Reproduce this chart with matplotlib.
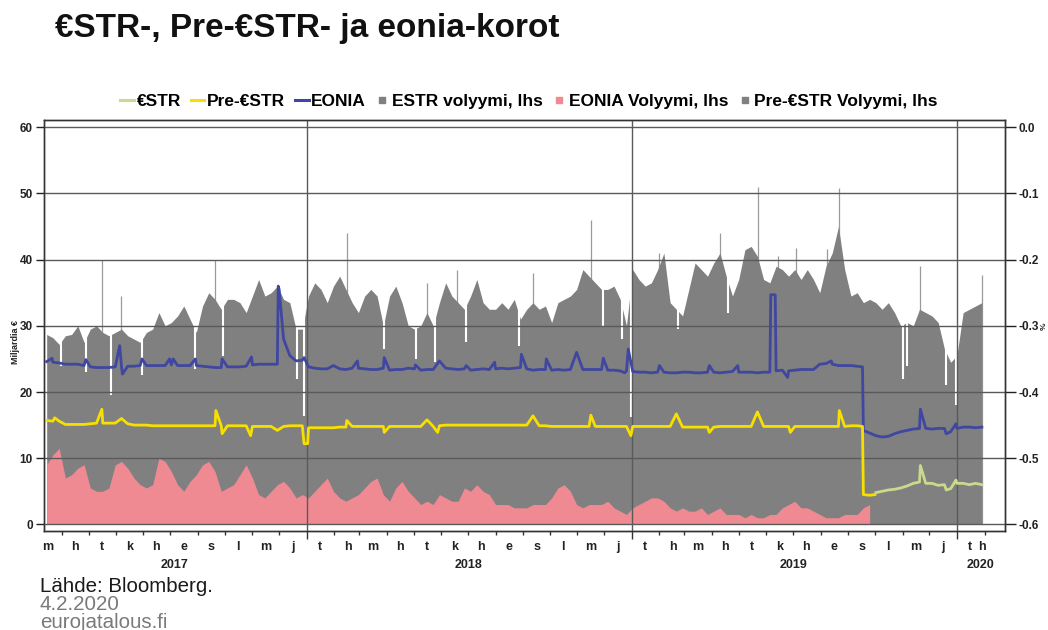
import matplotlib
matplotlib.use("Agg")
import matplotlib.pyplot as plt
import matplotlib.dates as mdates
import matplotlib.transforms as mtransforms
from matplotlib.lines import Line2D
import numpy as np
import pandas as pd

plt.rcParams['axes.unicode_minus'] = False
plt.rcParams['font.family'] = ['Liberation Sans', 'DejaVu Sans']

# ---------------- data (weekly observations, Wednesdays from 2017-03-15) ----------------
week_start = "2017-03-15"
n_weeks = 151

# Pre-€STR volume (weeks 0..132), EUR bn
pre_estr_volume = [
    28.7, 28.2, 27.2, 28.5, 28.7, 30.0, 27.5, 29.5, 30.0, 29.0, 28.5, 29.0, 29.5, 28.5, 28.0, 27.5, 29.0, 29.5, 32.0, 30.0,
    30.5, 31.5, 33.0, 31.0, 29.0, 33.0, 35.0, 34.0, 32.5, 34.0, 34.0, 33.5, 32.0, 34.5, 37.0, 34.5, 35.0, 36.0, 34.0, 33.5,
    29.5, 29.5, 34.5, 36.5, 35.5, 33.5, 36.0, 37.5, 35.5, 33.5, 32.0, 34.5, 35.5, 34.5, 30.0, 34.5, 36.0, 33.5, 30.0, 29.5,
    30.0, 32.0, 30.0, 33.5, 36.5, 34.5, 33.5, 32.5, 34.5, 37.0, 33.5, 32.5, 32.5, 33.5, 32.5, 34.0, 31.0, 32.5, 33.5,
    32.5, 33.0, 30.5, 33.5, 34.0, 34.5, 35.5, 38.5, 37.5, 36.5, 35.5, 35.5, 36.0, 34.0, 30.0, 38.5, 37.0, 36.0, 36.5, 38.5,
    41.0, 33.5, 32.5, 31.5, 35.5, 39.5, 38.5, 37.5, 39.5, 41.0, 37.5, 34.5, 37.0, 41.5, 42.0, 40.5, 37.0, 36.5, 39.0,
    38.5, 37.5, 38.5, 37.0, 38.5, 37.0, 35.0, 39.0, 41.0, 45.0, 38.5, 34.5, 35.0, 33.5, 34.0,
]
# €STR volume (weeks 133..150)
estr_volume = [33.5, 32.5, 33.5, 32.0, 30.0, 30.5, 30.0, 32.5, 32.0, 31.5, 30.5, 26.5, 24.5, 25.5, 32.0, 32.5, 33.0, 33.5]

# EONIA volume (weeks 0..132)
eonia_volume = [
    9.0, 10.5, 11.5, 7.0, 7.5, 8.5, 9.0, 5.5, 5.0, 5.0, 5.5, 9.0, 9.5, 8.5, 7.0, 6.0, 5.5, 6.0, 10.0, 9.5,
    8.0, 6.0, 5.0, 6.5, 7.5, 9.0, 9.5, 8.0, 5.0, 5.5, 6.0, 7.5, 9.0, 7.0, 4.5, 4.0, 5.0, 6.0, 6.5, 5.5,
    4.0, 4.5, 4.0, 5.0, 6.0, 7.0, 5.0, 4.0, 3.5, 4.0, 4.5, 5.5, 6.5, 7.0, 4.5, 3.5, 5.5, 6.5, 5.0, 4.0,
    3.0, 3.5, 3.0, 4.5, 4.0, 3.5, 3.5, 5.5, 5.0, 6.0, 5.0, 4.5, 3.0, 3.0, 3.0, 2.5, 2.5, 2.5, 3.0,
    3.0, 3.0, 4.0, 5.5, 6.0, 5.0, 3.0, 2.5, 3.0, 3.0, 3.0, 3.5, 2.5, 2.0, 1.5, 2.5, 3.0, 3.5, 4.0, 4.0,
    3.5, 2.5, 2.0, 2.5, 2.0, 2.0, 2.5, 1.5, 2.0, 2.5, 1.5, 1.5, 1.5, 1.0, 1.5, 1.0, 1.0, 1.5, 1.5,
    2.5, 3.0, 3.5, 2.5, 2.5, 2.0, 1.5, 1.0, 1.0, 1.0, 1.5, 1.5, 1.5, 2.5, 3.0,
]

# EONIA rate, % (weeks 0..150)
eonia_rate = [
    -0.354, -0.355, -0.356, -0.358, -0.358, -0.358, -0.360, -0.362, -0.363, -0.363, -0.363, -0.362, -0.361, -0.361,
    -0.361, -0.360, -0.360, -0.360, -0.360, -0.360, -0.359, -0.360, -0.360, -0.360, -0.360, -0.361, -0.362, -0.363,
    -0.363, -0.362, -0.362, -0.362, -0.361, -0.359, -0.358, -0.358, -0.358, -0.358, -0.320, -0.345,
    -0.353, -0.352, -0.362, -0.364, -0.365, -0.365, -0.364, -0.365, -0.366, -0.364, -0.364, -0.365, -0.366, -0.366,
    -0.364, -0.367, -0.366, -0.366, -0.364, -0.365, -0.367, -0.366, -0.366, -0.364, -0.364, -0.365, -0.366, -0.365,
    -0.367, -0.366, -0.365, -0.366, -0.365, -0.364, -0.365, -0.364, -0.363, -0.365, -0.367,
    -0.366, -0.366, -0.367, -0.366, -0.367, -0.366, -0.367, -0.366, -0.366, -0.366, -0.366, -0.367, -0.367, -0.368,
    -0.368, -0.369, -0.370, -0.370, -0.371, -0.370, -0.370, -0.371, -0.371, -0.370, -0.370, -0.371, -0.371, -0.370,
    -0.370, -0.371, -0.370, -0.369, -0.370, -0.370, -0.370, -0.371, -0.370, -0.370, -0.368,
    -0.367, -0.368, -0.367, -0.366, -0.366, -0.366, -0.361, -0.357, -0.358, -0.360, -0.360, -0.360, -0.361,
    -0.458, -0.462, -0.466, -0.468, -0.467, -0.463, -0.460, -0.458, -0.456, -0.455, -0.455, -0.456, -0.455,
    -0.455, -0.460, -0.455, -0.453, -0.453, -0.454, -0.453,
]

# Pre-€STR rate, % (weeks 0..132)
pre_estr_rate = [
    -0.443, -0.444, -0.444, -0.449, -0.449, -0.449, -0.449, -0.448, -0.447, -0.447, -0.447, -0.447, -0.447, -0.448,
    -0.450, -0.450, -0.450, -0.451, -0.451, -0.451, -0.451, -0.451, -0.451, -0.451, -0.451, -0.451, -0.451, -0.451,
    -0.451, -0.451, -0.451, -0.451, -0.451, -0.452, -0.452, -0.452, -0.452, -0.452, -0.452, -0.451,
    -0.451, -0.451, -0.454, -0.454, -0.454, -0.454, -0.454, -0.453, -0.453, -0.452, -0.452, -0.452, -0.452, -0.452,
    -0.452, -0.452, -0.452, -0.452, -0.452, -0.452, -0.452, -0.452, -0.452, -0.451, -0.450, -0.450, -0.450, -0.450,
    -0.450, -0.450, -0.450, -0.450, -0.450, -0.450, -0.450, -0.450, -0.450, -0.450, -0.450,
    -0.451, -0.451, -0.452, -0.452, -0.452, -0.452, -0.452, -0.452, -0.452, -0.452, -0.452, -0.452, -0.452, -0.452,
    -0.452, -0.452, -0.452, -0.452, -0.452, -0.452, -0.452, -0.452, -0.453, -0.453, -0.453, -0.453, -0.453, -0.453,
    -0.453, -0.452, -0.452, -0.452, -0.452, -0.452, -0.452, -0.452, -0.452, -0.452, -0.452,
    -0.452, -0.452, -0.452, -0.452, -0.452, -0.452, -0.452, -0.452, -0.452, -0.452, -0.452, -0.451, -0.451,
    -0.555, -0.556,
]

# €STR rate, % (weeks 133..150)
estr_rate = [-0.552, -0.550, -0.548, -0.547, -0.545, -0.542, -0.538, -0.536, -0.538, -0.538, -0.541, -0.540,
             -0.546, -0.538, -0.538, -0.540, -0.538, -0.540]

# single-day moves between the weekly observations
eonia_spike_dates = ["2017-03-21", "2017-04-28", "2017-06-05", "2017-06-08", "2017-06-30", "2017-07-31",
                     "2017-08-04", "2017-08-29", "2017-09-28", "2017-10-31", "2017-11-30", "2017-12-01",
                     "2017-12-29", "2018-01-31", "2018-02-27", "2018-03-29", "2018-05-03", "2018-05-30",
                     "2018-06-29", "2018-07-31", "2018-08-30", "2018-09-27", "2018-10-31", "2018-11-30",
                     "2018-12-24", "2018-12-28", "2019-02-01", "2019-03-29", "2019-04-30", "2019-06-06",
                     "2019-06-11", "2019-06-25", "2019-07-31", "2019-08-13", "2019-09-17", "2019-11-21",
                     "2019-12-20", "2019-12-31"]
eonia_spike_values = [-0.349, -0.351, -0.330, -0.373, -0.350, -0.350, -0.350, -0.350, -0.350, -0.347, -0.240,
                      -0.245, -0.348, -0.360, -0.353, -0.348, -0.359, -0.353, -0.360, -0.355, -0.343, -0.350,
                      -0.340, -0.349, -0.371, -0.335, -0.360, -0.360, -0.360, -0.253, -0.253, -0.378, -0.358,
                      -0.353, -0.362, -0.426, -0.463, -0.448]

pre_estr_spike_dates = ["2017-03-24", "2017-05-16", "2017-06-07", "2017-09-21", "2017-09-28", "2017-10-30",
                        "2017-11-29", "2017-12-29", "2018-01-02", "2018-02-15", "2018-03-29", "2018-05-16",
                        "2018-05-28", "2018-09-12", "2018-11-16", "2018-12-31", "2019-02-20", "2019-03-29",
                        "2019-05-22", "2019-06-28", "2019-08-22", "2019-09-17", "2019-10-01"]
pre_estr_spike_values = [-0.439, -0.426, -0.440, -0.428, -0.463, -0.466, -0.458, -0.478, -0.478, -0.443, -0.461,
                         -0.442, -0.461, -0.436, -0.435, -0.466, -0.433, -0.461, -0.430, -0.461, -0.428, -0.452,
                         -0.555]

estr_spike_dates = ["2019-11-21", "2019-12-20", "2019-12-31"]
estr_spike_values = [-0.511, -0.548, -0.533]

volume_peak_dates = ["2017-05-16", "2017-06-07", "2017-09-20", "2018-02-15", "2018-05-16", "2018-06-19",
                     "2018-09-12", "2018-11-16", "2019-02-01", "2019-04-10", "2019-05-23", "2019-06-14",
                     "2019-07-04", "2019-08-08", "2019-08-22", "2019-11-21", "2020-01-29"]
volume_peak_values = [40, 34.5, 40, 44, 36.5, 38.5, 38, 46, 41, 44, 51, 40.5, 41.7, 41.6, 50.8, 39, 37.7]

volume_low_dates = ["2017-03-31", "2017-04-28", "2017-05-26", "2017-06-30", "2017-08-28", "2017-09-29",
                    "2017-12-21", "2017-12-29", "2018-03-29", "2018-05-04", "2018-05-25", "2018-06-29",
                    "2018-08-27", "2018-11-30", "2018-12-21", "2018-12-31", "2019-02-22", "2019-04-19",
                    "2019-11-01", "2019-11-06", "2019-12-20", "2019-12-31"]
volume_low_values = [24, 23, 19.5, 22.5, 23.5, 25.5, 22, 16.4, 26.5, 25, 24.5, 27.5, 27, 30, 28, 16.3,
                     29.5, 32, 22, 24, 21, 18]

month_letters = ['t', 'h', 'm', 'h', 't', 'k', 'h', 'e', 's', 'l', 'm', 'j']

# ---------------- build ----------------
dates = pd.date_range(week_start, periods=n_weeks, freq="7D")
n_pre = len(pre_estr_volume)
d_pre = dates[:n_pre]
d_estr = dates[n_pre:]


def num(d):
    return mdates.date2num(pd.to_datetime(d).to_pydatetime())


def merged(base_dates, base_vals, sp_dates, sp_vals):
    s = pd.concat([pd.Series(base_vals, index=base_dates),
                   pd.Series(sp_vals, index=pd.to_datetime(sp_dates))])
    s = s[~s.index.duplicated(keep='last')].sort_index()
    return num(s.index), s.values


C_GRAY = '#808080'
C_PINK = '#f08a92'
C_BLUE = '#3f47a0'
C_YEL = '#f7df00'
C_GRN = '#c9d98e'
C_GRID = '#5a5a5a'

fig = plt.figure(figsize=(10.48, 6.30), dpi=100)
ax = fig.add_axes([44 / 1048, 1 - 531 / 630, (1005 - 44) / 1048, (531 - 120) / 630])
ax2 = ax.twinx()

x_all = num(dates)
x_pre = num(d_pre)

# thin single-day peaks (behind the bars)
ax.vlines(num(volume_peak_dates), 0, volume_peak_values, color='#9a9a9a', lw=0.9, zorder=0.8)
# Pre-€STR volume followed by €STR volume (same grey)
ax.fill_between(x_all, 0, np.concatenate([pre_estr_volume, estr_volume]), color=C_GRAY, lw=0, zorder=1)
# low-volume days (gaps in bars)
ax.vlines(num(volume_low_dates), volume_low_values, 61.1, color='white', lw=1.5, zorder=1.2)
ax.fill_between(x_pre, 0, eonia_volume, color=C_PINK, lw=0, zorder=1.3)

xe, ye = merged(dates, eonia_rate, eonia_spike_dates, eonia_spike_values)
xp, yp = merged(d_pre, pre_estr_rate, pre_estr_spike_dates, pre_estr_spike_values)
xs, ys = merged(d_estr, estr_rate, estr_spike_dates, estr_spike_values)
ax2.plot(xe, ye, color=C_BLUE, lw=2.0, solid_joinstyle='round')
ax2.plot(xp, yp, color=C_YEL, lw=2.0, solid_joinstyle='round')
ax2.plot(xs, ys, color=C_GRN, lw=2.0, solid_joinstyle='round')

# axes limits
xmin = num("2017-03-12")
xmax = num("2020-02-24")
ax.set_xlim(xmin, xmax)
ax.set_ylim(-1.0, 61.1)
ax2.set_ylim(-0.61, 0.011)

ax.set_axisbelow(False)
ax.set_yticks(range(0, 61, 10))
ax.set_yticklabels([str(v) for v in range(0, 61, 10)], fontsize=8.5, fontweight='bold')
ax.grid(axis='y', color=C_GRID, lw=1.0, zorder=2.5)
ax.tick_params(axis='y', direction='out', length=6, width=1, pad=2, colors='#222')

rt = [0.0, -0.1, -0.2, -0.3, -0.4, -0.5, -0.6]
ax2.set_yticks(rt)
ax2.set_yticklabels([f"{v:.1f}" for v in rt], fontsize=8.5, fontweight='bold')
ax2.tick_params(axis='y', direction='out', length=8, width=1, pad=2, colors='#222')

# x axis: year lines and month ticks
years = pd.date_range("2018-01-01", "2020-01-01", freq="YS")
ax.set_xticks(num(years))
ax.set_xticklabels([])
ax.tick_params(axis='x', which='major', direction='out', length=6, width=1, colors='#333')
ax.grid(axis='x', which='major', color=C_GRID, lw=1.0, zorder=2.5)
months = pd.date_range("2017-04-01", "2020-02-01", freq="MS")
ax.set_xticks(num(months), minor=True)
ax.tick_params(axis='x', which='minor', direction='out', length=3, width=1, colors='#333')

trans = mtransforms.blended_transform_factory(ax.transData, ax.transAxes)
last_day = dates[-1]
for m in pd.date_range("2017-03-01", "2020-02-01", freq="MS"):
    pos = min(m + pd.Timedelta(days=15), last_day)
    ax.text(num(pos), -0.039, month_letters[m.month - 1], transform=trans,
            ha='center', va='center', fontsize=9, fontweight='bold', color='#222')
for y in [2017, 2018, 2019, 2020]:
    a = max(num(f"{y}-01-01"), xmin)
    b = min(num(f"{y}-12-31"), xmax)
    ax.text((a + b) / 2, -0.083, str(y), transform=trans, ha='center', va='center',
            fontsize=9, fontweight='bold', color='#222')

for sp in list(ax.spines.values()) + list(ax2.spines.values()):
    sp.set_color('#333')
    sp.set_linewidth(1.0)

# texts
fig.text(55 / 1048, 1 - 28 / 630, "€STR-, Pre-€STR- ja eonia-korot", fontsize=24, fontweight='bold',
         ha='left', va='center', color='#111')
fig.text(15 / 1048, 1 - 342 / 630, "Miljardia €", rotation=90, fontsize=6.5, fontweight='bold',
         ha='center', va='center', color='#222')
fig.text(1044 / 1048, 1 - 326 / 630, "%", rotation=90, fontsize=6, fontweight='bold',
         ha='center', va='center', color='#222')
fig.text(40 / 1048, 1 - 587 / 630, "Lähde: Bloomberg.", fontsize=14.8, ha='left', va='center', color='#1a1a1a')
fig.text(40 / 1048, 1 - 605 / 630, "4.2.2020", fontsize=14.8, ha='left', va='center', color='#7a7a7a')
fig.text(40 / 1048, 1 - 622 / 630, "eurojatalous.fi", fontsize=14.8, ha='left', va='center', color='#7a7a7a')

# legend
leg_prop = dict(family='Liberation Sans', weight='bold', size=12.5)
handles = [
    Line2D([0], [0], color=C_GRN, lw=2.2),
    Line2D([0], [0], color=C_YEL, lw=2.2),
    Line2D([0], [0], color=C_BLUE, lw=2.2),
    Line2D([0], [0], marker='s', ls='none', color=C_GRAY, markersize=4.5),
    Line2D([0], [0], marker='s', ls='none', color=C_PINK, markersize=4.5),
    Line2D([0], [0], marker='s', ls='none', color=C_GRAY, markersize=4.5),
]
labels = ["€STR", "Pre-€STR", "EONIA", "ESTR volyymi, lhs", "EONIA Volyymi, lhs", "Pre-€STR Volyymi, lhs"]
fig.legend(handles, labels, loc='center', bbox_to_anchor=(529 / 1048, 1 - 101 / 630), ncol=6, frameon=False,
           prop=leg_prop, handlelength=0.8, handletextpad=0.15, columnspacing=0.55, borderpad=0)

fig.savefig("out.png", dpi=100)
